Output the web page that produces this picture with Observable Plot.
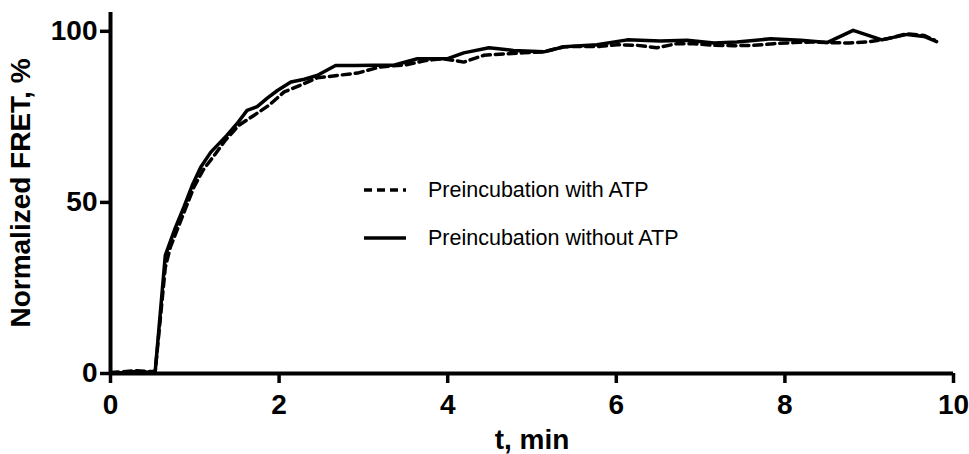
<!DOCTYPE html>
<html>
<head>
<meta charset="utf-8">
<script src="https://cdn.jsdelivr.net/npm/d3@7"></script>
<script src="https://cdn.jsdelivr.net/npm/@observablehq/plot@0.6"></script>
<style>
  html, body { margin: 0; padding: 0; background: #fff; }
  #wrap { position: relative; width: 969px; height: 454px; }
  #legend { position: absolute; left: 362px; top: 166px; font-family: "Liberation Sans", Arial, sans-serif; font-size: 21.5px; color: #000; }
  #legend .row { display: flex; align-items: center; height: 48px; }
  #legend svg { margin-right: 20px; }
</style>
</head>
<body>
<div id="wrap"><div id="legend"></div></div>
<script>
const seriesNames = ["Preincubation with ATP", "Preincubation without ATP"];

const tWith = [0, 0.15, 0.3, 0.45, 0.53, 0.65, 0.71, 0.85, 0.99, 1.1, 1.23, 1.36, 1.52, 1.70, 1.88, 2.06, 2.25, 2.45, 2.69, 2.93, 3.2, 3.5, 3.75, 3.95, 4.19, 4.43, 4.67, 4.9, 5.14, 5.38, 5.6, 5.81, 6.01, 6.25, 6.48, 6.72, 6.92, 7.16, 7.39, 7.63, 7.87, 8.1, 8.34, 8.5, 8.76, 8.98, 9.21, 9.45, 9.65, 9.77];
const vWith = [0.3, 0.5, 0.8, 0.6, 0.6, 31, 36.9, 45.7, 54.5, 59.5, 63.7, 68.1, 72.5, 75.4, 78.4, 82.3, 84.2, 86.4, 87.1, 87.8, 89.6, 90.2, 91.5, 92, 91, 93, 93.4, 93.7, 94, 95.5, 95.6, 95.6, 96.1, 95.9, 95.2, 96.4, 96.4, 95.9, 95.8, 95.9, 96.4, 96.7, 96.9, 96.7, 96.6, 96.9, 97.8, 99.3, 98.8, 97.5];

const tWithout = [0, 0.15, 0.3, 0.45, 0.53, 0.65, 0.76, 0.87, 0.97, 1.07, 1.19, 1.38, 1.5, 1.62, 1.74, 1.86, 1.98, 2.14, 2.3, 2.45, 2.67, 2.9, 3.12, 3.36, 3.64, 3.87, 4.0, 4.19, 4.49, 4.78, 5.14, 5.38, 5.77, 6.13, 6.52, 6.84, 7.16, 7.43, 7.83, 8.19, 8.5, 8.81, 9.15, 9.45, 9.65, 9.8];
const vWithout = [0.2, 0.3, 0.6, 0.4, 0.5, 34.5, 42, 48.6, 55, 60.3, 64.7, 69.6, 73, 76.9, 78, 80.5, 82.7, 85.2, 86, 87.1, 90, 90, 90.1, 90.1, 92, 92, 92, 93.7, 95.2, 94.4, 94, 95.5, 96.1, 97.5, 97.2, 97.4, 96.6, 96.9, 97.8, 97.4, 96.7, 100.3, 97.5, 99.1, 98.5, 97];

const xTicks = [0, 2, 4, 6, 8, 10];
const yTicks = [0, 50, 100];

const withData = tWith.map((t, i) => ({t, v: vWith[i]}));
const withoutData = tWithout.map((t, i) => ({t, v: vWithout[i]}));

const dash = "8,5";
const lw = 3.5;

const chart = Plot.plot({
  width: 969,
  height: 454,
  marginLeft: 110,
  marginRight: 16,
  marginTop: 12,
  marginBottom: 81,
  style: {fontFamily: "'Liberation Sans', Arial, sans-serif", fontSize: "28px", fontWeight: "bold", color: "#000", background: "#fff"},
  x: {domain: [0, 10]},
  y: {domain: [0, 105.5]},
  marks: [
    Plot.axisX({ticks: xTicks, tickSize: 10, tickPadding: 11, strokeWidth: 3.5, label: "t, min", labelArrow: "none", labelAnchor: "center", labelOffset: 75, fontSize: 28, fontWeight: "bold"}),
    Plot.axisY({ticks: yTicks, tickSize: 10, tickPadding: 3, strokeWidth: 3.5, label: "Normalized FRET, %", labelAnchor: "center", labelOffset: 100, labelArrow: "none", fontSize: 28, fontWeight: "bold"}),
    Plot.line(withData, {x: "t", y: "v", stroke: "#000", strokeWidth: lw, strokeDasharray: dash, strokeLinejoin: "round"}),
    Plot.line(withoutData, {x: "t", y: "v", stroke: "#000", strokeWidth: lw, strokeLinejoin: "round"}),
    Plot.ruleY([0], {stroke: "#000", strokeWidth: 4}),
    Plot.ruleX([0], {stroke: "#000", strokeWidth: 4})
  ]
});
const wrap = document.getElementById("wrap");
wrap.insertBefore(chart, wrap.firstChild);

const legend = document.getElementById("legend");
seriesNames.forEach((name, i) => {
  const row = document.createElement("div");
  row.className = "row";
  row.innerHTML = `<svg width="46" height="8"><line x1="2" y1="4" x2="44" y2="4" stroke="#000" stroke-width="${lw}" ${i === 0 ? `stroke-dasharray="${dash}"` : ""}/></svg><span>${name}</span>`;
  legend.appendChild(row);
});
</script>
</body>
</html>
